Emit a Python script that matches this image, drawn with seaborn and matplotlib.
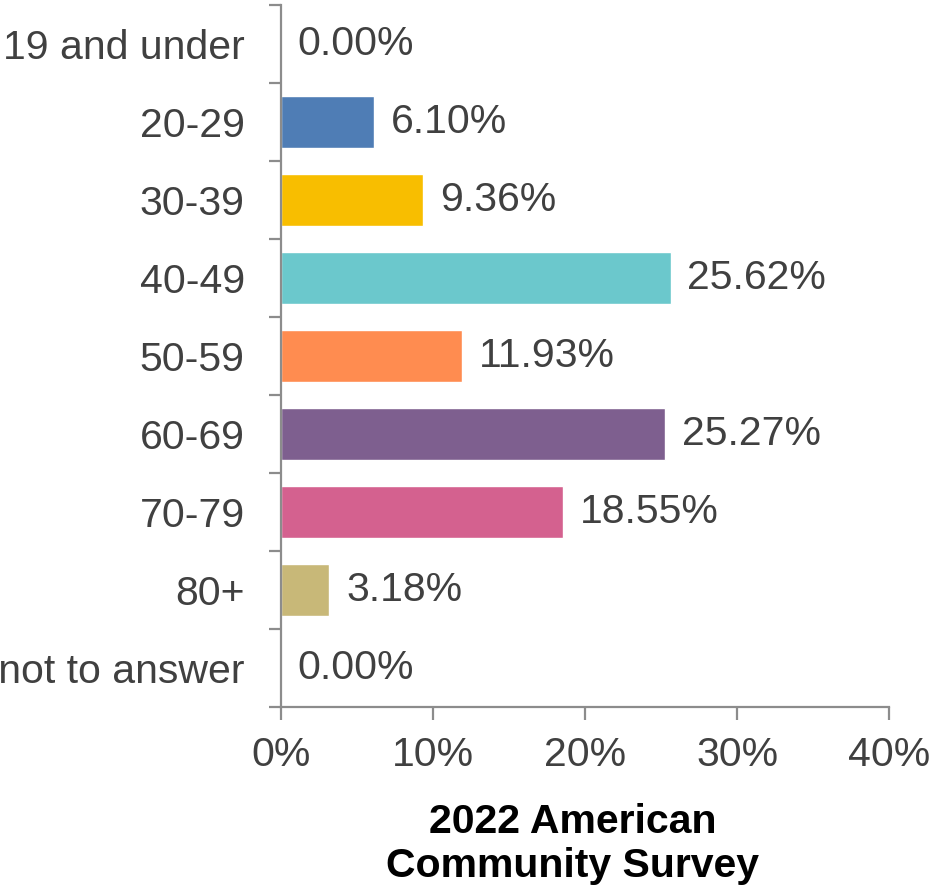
import pandas as pd
import numpy as np
import matplotlib.pyplot as plt
import seaborn as sns

sns.set_style("white")
plt.rcParams['font.family'] = ['Liberation Sans', 'DejaVu Sans']

# Data
age_groups = ["19 and under", "20-29", "30-39", "40-49", "50-59",
              "60-69", "70-79", "80+", "Prefer not to answer"]
shares = [0.00, 6.10, 9.36, 25.62, 11.93, 25.27, 18.55, 3.18, 0.00]
bar_colors = ["#4F7DB5", "#4F7DB5", "#F8BE00", "#6BC8CC", "#FF8C50",
              "#7E5F8F", "#D4618F", "#C8B878", "#4F7DB5"]
x_ticks = [0, 10, 20, 30, 40]
x_title = "2022 American\nCommunity Survey"

df = pd.DataFrame({"Age": age_groups, "Share": shares})

text_col = "#404040"
axis_col = "#8C8C8C"
fs = 29.5

fig = plt.figure(figsize=(9.32, 8.89), dpi=100)
ax = fig.add_axes([0.3015, 0.2047, 0.6525, 0.7897])

sns.barplot(data=df, x="Share", y="Age", hue="Age", palette=bar_colors,
            orient="h", width=0.67, legend=False, ax=ax, saturation=1)

# value labels
for i, v in enumerate(shares):
    ax.text(v + 1.1, i, f"{v:.2f}%", va="center", ha="left",
            fontsize=fs, color=text_col)

ax.set_xlim(0, 40)
ax.set_ylim(len(age_groups) - 0.5, -0.5)
ax.set_xticks(x_ticks)
ax.set_xticklabels([f"{t}%" for t in x_ticks])

# ticks at category boundaries, labels at centres
ax.set_yticks(np.arange(-0.5, len(age_groups)), minor=True)
ax.tick_params(axis="y", which="minor", length=9, width=1.6, color=axis_col, left=True)
ax.tick_params(axis="y", which="major", length=0, pad=26, labelsize=fs, labelcolor=text_col)
ax.tick_params(axis="x", which="major", length=9, width=1.6, color=axis_col,
               bottom=True, pad=12, labelsize=fs, labelcolor=text_col)

for side in ["top", "right"]:
    ax.spines[side].set_visible(False)
for side in ["left", "bottom"]:
    ax.spines[side].set_color(axis_col)
    ax.spines[side].set_linewidth(1.6)

ax.set_ylabel("")
ax.set_xlabel(x_title, fontsize=29.5, fontweight="bold", color="black", linespacing=1.2)
ax.xaxis.set_label_coords(0.48, -0.137)
ax.xaxis.label.set_va("top")

fig.savefig("out.png", dpi=100)
